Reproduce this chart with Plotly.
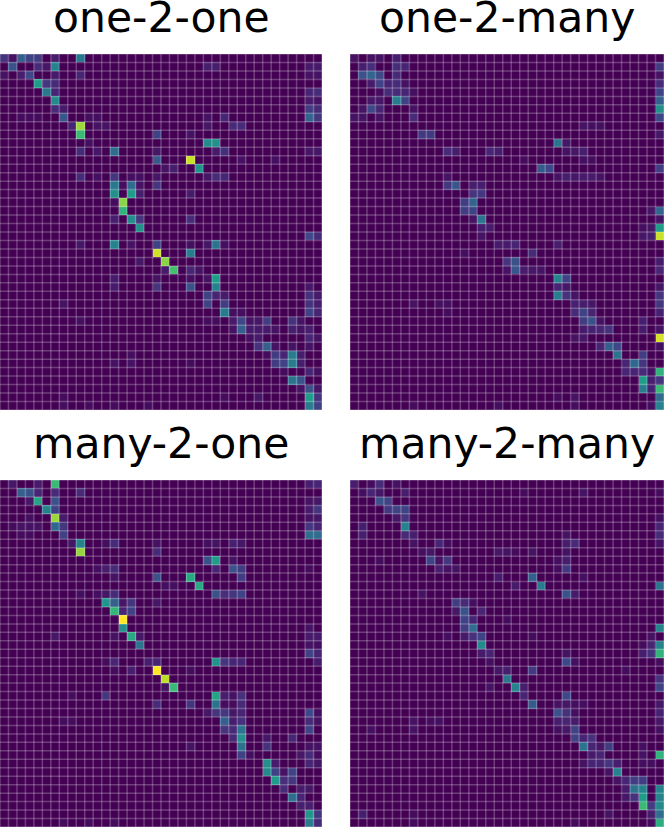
import plotly.graph_objects as go

W, H = 668, 827
titles = ["one-2-one", "one-2-many", "many-2-one", "many-2-many"]
n_rows = [42, 42, 41, 41]
n_cols = [38, 37, 38, 37]

# row -> {column: value}
one_2_one = {
0:{0:.15,1:.05,2:.3,3:.2,4:.18,6:.08,9:.4},
1:{1:.25,4:.12,5:.06,6:.45,24:.08,25:.08,36:.07,37:.07},
2:{0:.05,2:.08,3:.22,6:.07,9:.1,36:.05,37:.05},
3:{4:.55,5:.15,6:.12},
4:{5:.4,6:.1,36:.1,37:.12},
5:{6:.48,36:.07,37:.05},
6:{6:.12,7:.07,36:.18,37:.12},
7:{2:.03,3:.03,4:.03,7:.27,10:.04,11:.04,24:.05,26:.1,36:.32,37:.16},
8:{8:.1,9:.85,11:.05,12:.05,24:.06,27:.12,28:.12},
9:{9:.68,18:.2,22:.05},
10:{10:.04,24:.48,25:.5},
11:{9:.12,11:.06,13:.35,18:.06,25:.07,26:.13,36:.06,37:.06},
12:{18:.28,22:.92,28:.05,32:.04},
13:{19:.05,20:.08,23:.52},
14:{9:.12,11:.04,13:.15,15:.04,16:.04,18:.06,24:.06,25:.12,26:.1},
15:{13:.4,14:.04,15:.35,16:.05,18:.15},
16:{13:.5,15:.55,16:.08,22:.07},
17:{13:.03,14:.82},
18:{14:.65},
19:{13:.08,15:.48,16:.15,22:.12},
20:{16:.5},
21:{36:.22,37:.12},
22:{9:.06,13:.45,15:.05,18:.2,22:.04,24:.06,25:.38,26:.04},
23:{18:.93,22:.42},
24:{16:.06,19:.82},
25:{19:.07,20:.7,22:.1,23:.05},
26:{13:.07,18:.05,22:.04,24:.05,25:.55},
27:{13:.07,18:.15,22:.25,25:.45,36:.06},
28:{24:.2,25:.1,26:.07,36:.14,37:.07},
29:{7:.05,24:.2,26:.18,36:.14,37:.08},
30:{26:.42,27:.04,28:.04,36:.2,37:.1},
31:{9:.04,24:.03,25:.03,27:.07,28:.22,29:.05,30:.06,31:.18,34:.14,35:.05},
32:{27:.05,28:.3,29:.07,30:.07,31:.07,32:.05,34:.08,35:.05,36:.08},
33:{29:.04,30:.07,36:.1,37:.05},
34:{30:.14,31:.3,32:.05,34:.05,36:.05},
35:{15:.04,31:.03,32:.18,33:.1,34:.42,35:.08},
36:{13:.05,15:.05,22:.03,32:.18,33:.2,34:.42,35:.08},
37:{33:.03,36:.1,37:.04},
38:{34:.38,35:.25},
39:{35:.05,36:.25,37:.06},
40:{7:.03,26:.03,30:.06,36:.55,37:.15},
41:{7:.04,10:.03,13:.03,17:.03,36:.42,37:.2},
}

one_2_many = {
0:{0:.05,2:.05,3:.05,5:.08},
1:{1:.08,2:.13,5:.13,6:.1,36:.18},
2:{1:.25,2:.32,3:.22,5:.12,36:.05},
3:{2:.07,3:.2,4:.1,5:.12,6:.05,36:.12},
4:{3:.03,4:.12,5:.12,6:.1,7:.04,36:.2},
5:{2:.06,3:.06,5:.42,6:.2,36:.3},
6:{1:.05,2:.22,3:.1,7:.05,36:.5},
7:{0:.05,1:.05,3:.05,7:.12,36:.22},
8:{27:.05,28:.04,29:.04},
9:{8:.17,9:.17,36:.06},
10:{24:.38,25:.06},
11:{11:.12,12:.08,16:.1,17:.08,25:.05,26:.06,27:.08},
12:{20:.03,27:.04,28:.03},
13:{22:.28,23:.22,36:.18},
14:{11:.05,24:.05,25:.08,26:.06,27:.07,28:.07,29:.05},
15:{11:.16,12:.27,14:.08,15:.08},
16:{14:.15,15:.16},
17:{13:.18,14:.32},
18:{13:.18,14:.2,35:.06,36:.32},
19:{14:.05,15:.38,36:.05},
20:{15:.08,16:.07,34:.04,35:.06,36:.55},
21:{15:.05,34:.06,35:.08,36:.92},
22:{17:.07,18:.07,19:.1,24:.08},
23:{13:.04,21:.12},
24:{18:.15,19:.25,36:.07},
25:{18:.05,19:.27,20:.07,21:.06,22:.05,36:.1},
26:{24:.45,25:.2},
27:{24:.1,25:.06,36:.06},
28:{24:.42,25:.14,26:.05,36:.15},
29:{7:.05,10:.04,11:.04,26:.09,27:.08,28:.06,36:.16},
30:{11:.03,26:.12,27:.2,28:.1,36:.09},
31:{27:.18,28:.25,29:.05,34:.08},
32:{27:.07,28:.09,29:.1,30:.14,34:.07,36:.05},
33:{26:.05,27:.06,36:.94},
34:{29:.1,30:.3,31:.22,36:.04},
35:{31:.38,34:.18},
36:{32:.1,33:.33,34:.15},
37:{32:.1,33:.1,34:.12,35:.05,36:.65},
38:{34:.55,35:.08,36:.15},
39:{34:.42,35:.09,36:.68},
40:{24:.03,26:.05,36:.35},
41:{7:.03,17:.04,26:.04,35:.04,36:.45},
}

many_2_one = {
0:{1:.06,4:.07,6:.68,36:.08,37:.1},
1:{2:.3,3:.25,4:.1,6:.12,9:.12},
2:{3:.06,4:.58,6:.25,36:.05,37:.06},
3:{5:.45,6:.2,36:.07,37:.15},
4:{3:.04,6:.85,7:.07,36:.05,37:.06},
5:{1:.03,2:.05,3:.05,4:.05,6:.33,7:.16,36:.16,37:.1},
6:{2:.03,3:.03,7:.2,36:.35,37:.35},
7:{8:.06,9:.45,12:.04,13:.12,18:.05,24:.04,25:.05,27:.09,28:.06},
8:{9:.84,18:.12},
9:{24:.25,25:.55,27:.05},
10:{11:.04,12:.08,13:.12,25:.1,27:.25,28:.18,36:.03},
11:{13:.05,18:.25,22:.6,28:.18},
12:{19:.04,20:.04,23:.6},
13:{9:.04,11:.04,12:.06,13:.12,25:.25,26:.13,27:.15,28:.2},
14:{12:.52,13:.3,14:.06,15:.15,18:.06},
15:{13:.66,14:.1,15:.2},
16:{14:1.0},
17:{14:.5,36:.05},
18:{6:.06,13:.05,15:.6,16:.06,36:.07,37:.07},
19:{16:.38,36:.05,37:.04},
20:{36:.2,37:.1},
21:{12:.03,13:.1,17:.08,18:.1,25:.52,26:.15,27:.1,28:.1,37:.07},
22:{13:.03,15:.08,18:1.0,22:.03},
23:{19:.9},
24:{19:.05,20:.68},
25:{8:.03,12:.15,25:.58,26:.08,27:.05,28:.14},
26:{18:.12,22:.15,25:.38,26:.03,27:.03,28:.12},
27:{24:.06,25:.15,26:.16,27:.06,28:.1,36:.22,37:.04},
28:{7:.03,8:.03,26:.3,27:.08,28:.14,36:.12,37:.05},
29:{26:.15,27:.12,28:.38,36:.2},
30:{27:.12,28:.5,31:.06,34:.1},
31:{22:.05,28:.38,31:.14,36:.05,37:.05},
32:{28:.2,29:.04,35:.06,36:.12,37:.03},
33:{31:.5,32:.07,36:.1,37:.06},
34:{31:.48,32:.2,33:.05,34:.2},
35:{32:.55,33:.13,34:.16},
36:{33:.12,35:.07,36:.06},
37:{34:.35,35:.1},
38:{35:.08,36:.08},
39:{36:.52,37:.16},
40:{7:.03,10:.03,13:.03,36:.42,37:.12},
}

many_2_many = {
0:{0:.08,2:.03,3:.12,5:.05},
1:{1:.04,2:.1,3:.06,6:.08,20:.03,27:.05,36:.03},
2:{3:.25,4:.2},
3:{4:.16,5:.2,6:.2},
4:{5:.06,6:.15,36:.04},
5:{1:.08,6:.45,36:.1},
6:{1:.08,6:.12,7:.08,25:.05,36:.12},
7:{7:.05,10:.1,11:.03,25:.08,26:.12,36:.05},
8:{8:.04,9:.06,17:.06,18:.05,19:.03,21:.05,25:.05},
9:{3:.03,9:.2,10:.05,11:.16,24:.04,25:.08},
10:{10:.08,11:.05,12:.05,24:.03,25:.16},
11:{17:.07,21:.3,27:.04},
12:{19:.07,22:.42,36:.38},
13:{8:.05,25:.25,26:.07},
14:{12:.18,13:.12,14:.04},
15:{12:.06,13:.25,15:.1},
16:{13:.2,14:.1,18:.03},
17:{13:.18,14:.35,36:.45},
18:{11:.04,13:.07,14:.14,15:.2,21:.03,35:.05},
19:{15:.48,34:.03,35:.1,36:.45},
20:{15:.07,16:.1,25:.05,34:.08,35:.14,36:.65},
21:{16:.04,25:.22,26:.04,36:.03},
22:{17:.06,18:.08,21:.17,32:.03},
23:{18:.4,36:.14},
24:{16:.05,19:.45,20:.08,36:.2},
25:{20:.1,25:.22},
26:{21:.28,24:.05,25:.06,26:.04,27:.04,36:.06},
27:{24:.25,25:.14,26:.04,36:.09},
28:{7:.05,9:.03,10:.04,24:.08,25:.1,26:.07,36:.06},
29:{2:.04,7:.05,24:.04,25:.06,26:.2,36:.04},
30:{26:.2,27:.1,28:.14},
31:{27:.38,28:.1,29:.06,30:.18,34:.04},
32:{28:.07,29:.1,34:.05,36:.65},
33:{27:.05,28:.1,29:.1,30:.16,31:.08,34:.04,35:.04},
34:{30:.05,31:.45},
35:{31:.05,32:.1,33:.18,34:.18},
36:{32:.07,33:.38,34:.45,36:.45},
37:{32:.06,33:.14,34:.55,36:.45},
38:{34:.68,35:.18,36:.48},
39:{1:.08,7:.03,30:.05,35:.08,36:.35},
40:{7:.03,26:.03,35:.03,36:.62},
}

panels = [one_2_many, one_2_one, many_2_one, many_2_many]
panels[0], panels[1] = panels[1], panels[0]
# pixel layout
x_px = [(0, 322), (350, 664), (0, 322), (350, 664)]
y_px = [(54, 410), (54, 410), (480, 827), (480, 827)]
title_y_px = [17, 17, 443, 443]
GRID = "rgba(255,255,255,0.24)"

fig = go.Figure()
layout = dict(width=W, height=H, margin=dict(l=0, r=0, t=0, b=0),
              paper_bgcolor="white", plot_bgcolor="#440154", showlegend=False)
annotations = []
for i, data in enumerate(panels):
    nr, nc = n_rows[i], n_cols[i]
    z = [[data.get(r, {}).get(c, 0.0) for c in range(nc)] for r in range(nr)]
    s = "" if i == 0 else str(i + 1)
    fig.add_trace(go.Heatmap(z=z, zmin=0, zmax=1, colorscale="Viridis", showscale=False,
                             hoverinfo="skip", xaxis="x" + s, yaxis="y" + s))
    gx, gy = [], []
    for k in range(nc + 1):
        gx += [k - .5, k - .5, None]
        gy += [-.5, nr - .5, None]
    for k in range(nr + 1):
        gx += [-.5, nc - .5, None]
        gy += [k - .5, k - .5, None]
    fig.add_trace(go.Scatter(x=gx, y=gy, mode="lines", line=dict(color=GRID, width=1.5),
                             hoverinfo="skip", xaxis="x" + s, yaxis="y" + s))
    layout["xaxis" + s] = dict(domain=[x_px[i][0] / W, x_px[i][1] / W], range=[-.5, nc - .5],
                               visible=False, anchor="y" + s)
    layout["yaxis" + s] = dict(domain=[1 - y_px[i][1] / H, 1 - y_px[i][0] / H], range=[nr - .5, -.5],
                               visible=False, anchor="x" + s)
    annotations.append(dict(text=titles[i], xref="paper", yref="paper",
                            x=[161, 507, 161, 507][i] / W, y=1 - title_y_px[i] / H,
                            xanchor="center", yanchor="middle", showarrow=False,
                            font=dict(family="DejaVu Sans", size=42.5, color="black")))
layout["annotations"] = annotations
fig.update_layout(**layout)
fig.write_html("out.html", config={"displayModeBar": False},
               post_script="document.body.style.margin='0';")
